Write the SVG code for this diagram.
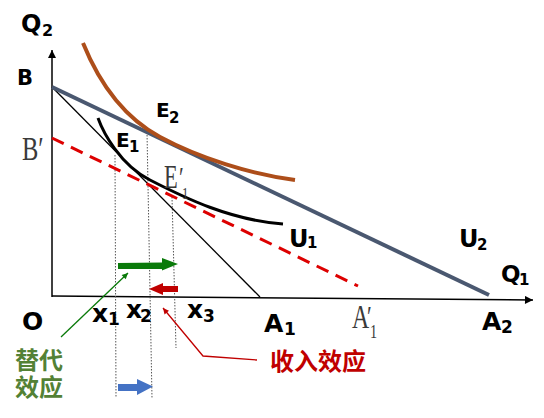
<svg xmlns="http://www.w3.org/2000/svg" width="544" height="418" viewBox="0 0 544 418">
<defs>
<style>
.lab{font-family:"DejaVu Sans","Liberation Sans",sans-serif;font-weight:bold;fill:#000}
.ser{font-family:"Liberation Serif","DejaVu Serif",serif;fill:#3a3a3a}
.cjk{font-family:"Noto Sans CJK SC",sans-serif;font-weight:bold;font-size:24px}
.dot{stroke:#555;stroke-width:1;stroke-dasharray:1.5 1.5;fill:none}
</style>
<marker id="ah" viewBox="0 0 10 10" refX="10" refY="5" markerWidth="9" markerHeight="8" markerUnits="userSpaceOnUse" orient="auto"><path d="M0,0 L10,5 L0,10 z" fill="#000"/></marker>
<marker id="ahg" viewBox="0 0 10 10" refX="10" refY="5" markerWidth="7" markerHeight="6" markerUnits="userSpaceOnUse" orient="auto"><path d="M0,0 L10,5 L0,10 z" fill="#0a7a0a"/></marker>
<marker id="ahr" viewBox="0 0 10 10" refX="10" refY="5" markerWidth="7" markerHeight="6" markerUnits="userSpaceOnUse" orient="auto"><path d="M0,0 L10,5 L0,10 z" fill="#c00000"/></marker>
</defs>
<rect width="544" height="418" fill="#fff"/>
<g id="connectors">
<line id="y-axis" x1="52" y1="297" x2="52" y2="50" stroke="#000" stroke-width="1.5" marker-end="url(#ah)"/>
<line id="x-axis" x1="52" y1="296" x2="533" y2="300" stroke="#000" stroke-width="1.5" marker-end="url(#ah)"/>
<line x1="115" y1="155" x2="116" y2="398" class="dot"/>
<line x1="147" y1="132" x2="152" y2="398" class="dot"/>
<line x1="172" y1="197" x2="176" y2="348" class="dot"/>
<line id="BA1" x1="52" y1="87" x2="260" y2="297" stroke="#000" stroke-width="1.3"/>
<line id="BA2" x1="52" y1="87" x2="489" y2="295" stroke="#4a5870" stroke-width="4"/>
<line id="BpA1p" x1="52" y1="138" x2="358" y2="286" stroke="#dd0000" stroke-width="3" stroke-dasharray="13 8"/>
<path id="U2" d="M83,43 C100,85 125,118 160,137 C199,158 250,174 295,180" fill="none" stroke="#ad4e1a" stroke-width="4"/>
<path id="U1" d="M98,118 C103,132 120,165 150,180 C185,198 230,220 283,224" fill="none" stroke="#000" stroke-width="3"/>
<polygon id="green-arrow" points="118,263 162,262.5 162,258 178,264 162,270.5 162,269 118,269" fill="#0a7a0a"/>
<polygon id="red-arrow" points="178,286 163,286 163,283 149,289 163,295 163,292 178,292" fill="#c00000"/>
<polygon id="blue-arrow" points="118,384 137,384 137,379 153,386.5 137,395 137,391 118,391" fill="#4472c4"/>
<line x1="61" y1="337" x2="128" y2="273" stroke="#0a7a0a" stroke-width="1.3" marker-end="url(#ahg)"/>
<polyline points="257,360 203,356 163,308" fill="none" stroke="#c00000" stroke-width="1.3" marker-end="url(#ahr)"/>
</g>
<g id="label-Q2"><text class="lab" x="21" y="32" font-size="24">Q<tspan font-size="16" x="42" y="36">2</tspan></text></g>
<g id="label-B"><text class="lab" x="17" y="85" font-size="21">B</text></g>
<g id="label-Bp"><text class="ser" transform="translate(22,160) scale(0.72,1)" font-size="34">B′</text></g>
<g id="label-E2"><text class="lab" x="156" y="117" font-size="20">E<tspan font-size="15" x="169" y="123">2</tspan></text></g>
<g id="label-E1"><text class="lab" x="116" y="147" font-size="20">E<tspan font-size="15" x="129" y="152">1</tspan></text></g>
<g id="label-E1p">
<text class="ser" transform="translate(164,188) scale(0.66,1)" font-size="34">E</text>
<text class="ser" transform="translate(179,187) scale(0.72,1)" font-size="30">′</text>
<text class="ser" transform="translate(182,199) scale(0.75,1)" font-size="17">1</text>
</g>
<g id="label-U1"><text class="lab" x="289" y="247" font-size="24">U<tspan font-size="15" x="307" y="248">1</tspan></text></g>
<g id="label-U2"><text class="lab" x="459" y="247" font-size="24">U<tspan font-size="15" x="477" y="250">2</tspan></text></g>
<g id="label-Q1"><text class="lab" x="501" y="282" font-size="23">Q<tspan font-size="15" x="519" y="285">1</tspan></text></g>
<g id="label-O"><text class="lab" x="22" y="330" font-size="25">O</text></g>
<g id="label-x1"><text class="lab" x="92" y="322" font-size="25">x<tspan font-size="17" x="108" y="325">1</tspan></text></g>
<g id="label-x2"><text class="lab" x="126" y="318" font-size="25">x<tspan font-size="17" x="140" y="322">2</tspan></text></g>
<g id="label-x3"><text class="lab" x="187" y="318" font-size="25">x<tspan font-size="17" x="203" y="322">3</tspan></text></g>
<g id="label-A1"><text class="lab" x="264" y="332" font-size="25">A<tspan font-size="17" x="284" y="335">1</tspan></text></g>
<g id="label-A1p">
<text class="ser" transform="translate(352,328) scale(0.7,1)" font-size="34">A</text>
<text class="ser" transform="translate(367,326) scale(0.72,1)" font-size="30">′</text>
<text class="ser" transform="translate(370,338) scale(0.75,1)" font-size="19">1</text>
</g>
<g id="label-A2"><text class="lab" x="482" y="330" font-size="25">A<tspan font-size="17" x="501" y="333">2</tspan></text></g>
<g id="label-sub"><text class="cjk" fill="#538135" x="15" y="369">替代</text><text class="cjk" fill="#538135" x="15" y="396">效应</text></g>
<g id="label-inc"><text class="cjk" fill="#c00000" x="270" y="370">收入效应</text></g>
</svg>
